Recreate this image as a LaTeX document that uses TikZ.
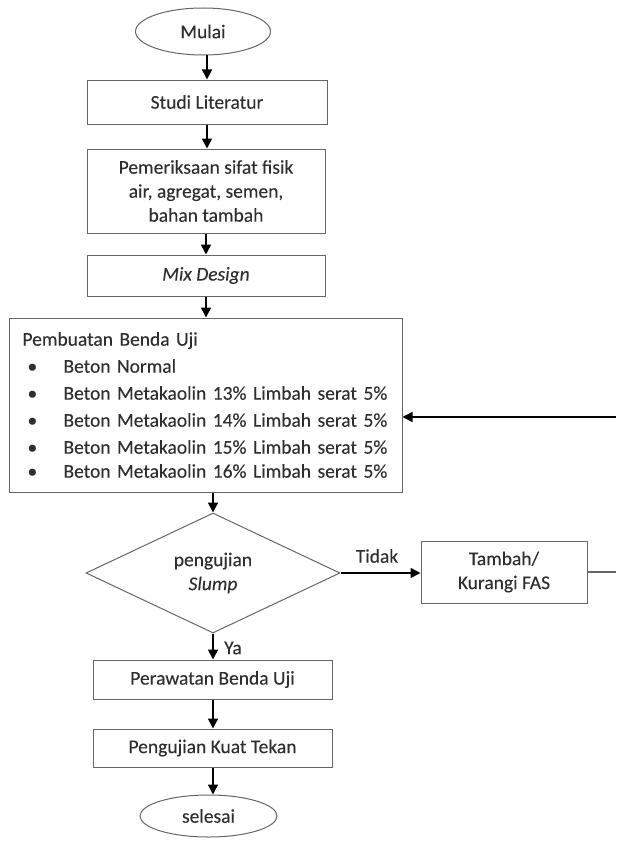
\documentclass[tikz,border=0pt]{standalone}
\usepackage{fontspec}
\setmainfont{Carlito}[FakeBold=0.12]
\usetikzlibrary{shapes.geometric,arrows.meta}
\definecolor{txt}{HTML}{2E2E2E}
\definecolor{edge}{HTML}{666666}
\begin{document}
\begin{tikzpicture}[x=1pt,y=-1pt,
  every node/.style={font=\fontsize{19.5}{24}\selectfont, text=txt},
  stepbox/.style={draw=edge, line width=1pt, rectangle, inner sep=0pt, align=center},
  term/.style={draw=edge, line width=1pt, ellipse, inner sep=0pt},
  decide/.style={draw=edge, line width=1pt, diamond, inner sep=0pt, align=center},
  arr/.style={draw=black, line width=1.6pt, -{Triangle[length=10pt,width=10pt]}},
  plain/.style={draw=edge, line width=1.2pt}]
\useasboundingbox (0,0) rectangle (616,843);
\node[term, minimum width=135, minimum height=47] (mulai) at (203,31.5) {Mulai};
\node[stepbox, minimum width=240, minimum height=44] (studi) at (207,102) {Studi Literatur};
\node[stepbox, minimum width=238, minimum height=84] (pemer) at (206,191) {Pemeriksaan sifat fisik\\air, agregat, semen,\\bahan tambah};
\node[stepbox, minimum width=238, minimum height=41] (mix) at (206,275.5) {\textit{Mix Design}};
\node[stepbox, minimum width=393, minimum height=174, text width=366, align=left] (make) at (205.5,405)
  {\fontsize{19.5}{27}\selectfont Pembuatan Benda Uji\\
   \makebox[41pt][l]{\hspace{5pt}\textbullet}Beton Normal\\
   \makebox[41pt][l]{\hspace{5pt}\textbullet}Beton Metakaolin 13\% Limbah serat 5\%\\
   \makebox[41pt][l]{\hspace{5pt}\textbullet}Beton Metakaolin 14\% Limbah serat 5\%\\
   \makebox[41pt][l]{\hspace{5pt}\textbullet}Beton Metakaolin 15\% Limbah serat 5\%\\
   \makebox[41pt][l]{\hspace{5pt}\textbullet}Beton Metakaolin 16\% Limbah serat 5\%};
\node[decide, minimum width=254, minimum height=120] (dia) at (213,573) {pengujian\\\textit{Slump}};
\node[stepbox, minimum width=166, minimum height=62] (tambah) at (504,572) {Tambah/\\Kurangi FAS};
\node[stepbox, minimum width=239, minimum height=39] (rawat) at (212.5,679.5) {Perawatan Benda Uji};
\node[stepbox, minimum width=239, minimum height=38] (uji) at (212.5,748) {Pengujian Kuat Tekan};
\node[term, minimum width=137, minimum height=42] (selesai) at (208.5,816) {selesai};
\node (tidak) at (377,556) {Tidak};
\node (ya) at (233,648) {Ya};
\coordinate (e1) at (616,572);
\coordinate (e2) at (616,417);
\draw[arr] (studi.north |- mulai.south) -- (studi.north);
\draw[arr] (studi.south) -- (studi.south |- pemer.north);
\draw[arr] (pemer.south) -- (mix.north);
\draw[arr] (mix.south) -- (mix.south |- make.north);
\draw[arr] (dia.north |- make.south) -- (dia.north);
\draw[arr] (dia.east) -- (tambah.west |- dia.east);
\draw[plain] (tambah.east) -- (e1);
\draw[arr] (e2) -- (make.east |- e2);
\draw[arr] (dia.south) -- (dia.south |- rawat.north);
\draw[arr] (dia.south |- rawat.south) -- (dia.south |- uji.north);
\draw[arr] (dia.south |- uji.south) -- (dia.south |- selesai.north);
\end{tikzpicture}
\end{document}
